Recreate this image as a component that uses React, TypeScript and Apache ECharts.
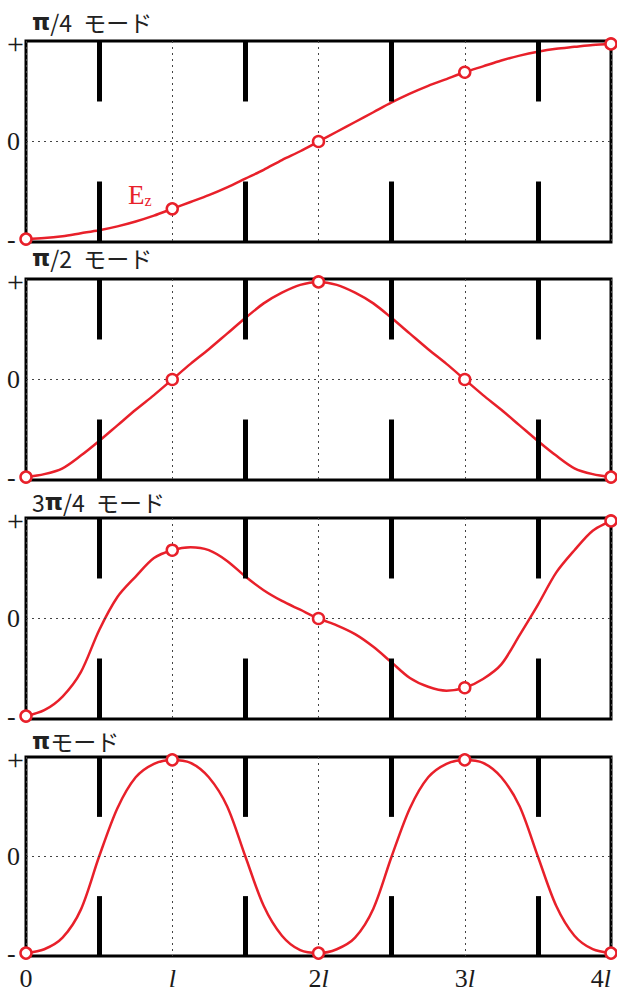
import { useEffect, useRef } from 'react';
import * as echarts from 'echarts';

// ---- data ----
const modeTitles = ['π/4', 'π/2', '3π/4', 'π'];
const modeSuffix = 'モード';
const xPositions = [
  0, 0.125, 0.25, 0.375, 0.5, 0.625, 0.75, 0.875,
  1, 1.125, 1.25, 1.375, 1.5, 1.625, 1.75, 1.875,
  2, 2.125, 2.25, 2.375, 2.5, 2.625, 2.75, 2.875,
  3, 3.125, 3.25, 3.375, 3.5, 3.625, 3.75, 3.875, 4,
];
const quarterMode = [
  -1, -0.99, -0.97, -0.94, -0.91, -0.87, -0.82, -0.76,
  -0.69, -0.62, -0.55, -0.47, -0.38, -0.29, -0.19, -0.1,
  0, 0.1, 0.2, 0.3, 0.4, 0.49, 0.57, 0.64,
  0.71, 0.77, 0.83, 0.88, 0.92, 0.95, 0.97, 0.99, 1,
];
const halfMode = [
  -1, -0.97, -0.91, -0.78, -0.63, -0.47, -0.31, -0.16,
  0, 0.16, 0.31, 0.47, 0.63, 0.78, 0.89, 0.97,
  1, 0.97, 0.89, 0.78, 0.63, 0.47, 0.31, 0.16,
  0, -0.16, -0.31, -0.47, -0.63, -0.78, -0.91, -0.97, -1,
];
const threeQuarterMode = [
  -1, -0.94, -0.8, -0.55, -0.12, 0.22, 0.43, 0.62,
  0.7, 0.73, 0.7, 0.59, 0.43, 0.29, 0.18, 0.09,
  0, -0.07, -0.16, -0.29, -0.45, -0.61, -0.7, -0.74,
  -0.71, -0.62, -0.47, -0.17, 0.14, 0.47, 0.7, 0.9, 1,
];
const piMode = [
  -1, -0.96, -0.84, -0.55, 0, 0.5, 0.82, 0.96,
  1, 0.97, 0.82, 0.52, 0, -0.51, -0.82, -0.97,
  -1, -0.96, -0.84, -0.54, 0, 0.5, 0.82, 0.96,
  1, 0.97, 0.82, 0.52, 0, -0.51, -0.82, -0.96, -1,
];
const modeValues = [quarterMode, halfMode, threeQuarterMode, piMode];
const cellPositions = [0, 1, 2, 3, 4];
const xTickLabels = ['0', 'l', '2l', '3l', '4l'];
const yTickValues = [-1, 0, 1];
const yTickLabels = ['-', '0', '+'];
const irisPositions = [0.5, 1.5, 2.5, 3.5];
const irisTip = 0.41;
const fieldLabel = 'Ez';

// ---- layout / style ----
const RED = '#e8202a';
const INK = '#1a1a1a';
const gridTops = [41, 279, 518, 757];
const titleCenters = [22, 258, 502, 741];
const GRID_H = 201;
const Y_EXT = 1.03;

function titleRich(t: string) {
  const parts = t.split(/(π)/).filter(Boolean).map((p) => (p === 'π' ? '{p|π}' : `{n|${p}}`)).join('');
  return t === 'π' ? `${parts}{t|${modeSuffix}}` : `${parts}{n| }{g|${modeSuffix}}`;
}

function xLabelRich(v: number) {
  const s = xTickLabels[Math.round(v)] ?? '';
  if (s === '0') return '{n|0}';
  const num = s.replace('l', '');
  return (num ? `{n|${num}}` : '') + '{i|l}';
}

function yLabelRich(v: number) {
  const s = yTickLabels[yTickValues.indexOf(Math.round(v))] ?? '';
  return s === '+' ? `{pl|${s}}` : `{v|${s}}`;
}

export default function App() {
  const ref = useRef<HTMLDivElement>(null);
  useEffect(() => {
    if (!ref.current) return;
    const chart = echarts.init(ref.current, undefined, { renderer: 'svg' });
    const grids = gridTops.map((top) => ({
      left: 26, width: 585, top, height: GRID_H,
      show: true, borderColor: '#000', borderWidth: 3, backgroundColor: 'transparent',
    }));
    const xAxes = gridTops.map((_, i) => ({
      type: 'value', gridIndex: i, min: 0, max: 4, interval: 1,
      axisLine: { show: false }, axisTick: { show: false },
      splitLine: { show: true, lineStyle: { color: '#444', type: [2, 4], width: 1 } },
      axisLabel: i === 3 ? {
        show: true, margin: 9, alignMaxLabel: 'right',
        formatter: (v: number) => xLabelRich(v),
        rich: {
          n: { fontFamily: 'Liberation Serif', fontSize: 26, color: INK },
          i: { fontFamily: 'Liberation Serif', fontStyle: 'italic', fontSize: 26, color: INK },
        },
      } : { show: false },
    }));
    const yAxes = gridTops.map((_, i) => ({
      type: 'value', gridIndex: i, min: -Y_EXT, max: Y_EXT,
      axisLine: { show: false }, axisTick: { show: false }, splitLine: { show: false },
      axisLabel: {
        show: true, customValues: yTickValues, align: 'left', margin: 19,
        formatter: (v: number) => yLabelRich(v),
        rich: {
          v: { fontFamily: 'Liberation Serif', fontSize: 26, color: INK },
          pl: { fontFamily: 'Liberation Serif', fontSize: 30, color: INK },
        },
      },
    }));
    const series: any[] = [];
    modeValues.forEach((vals, i) => {
      series.push({
        type: 'line', xAxisIndex: i, yAxisIndex: i, data: [], silent: true, z: 1,
        markLine: {
          silent: true, symbol: ['none', 'none'], label: { show: false }, animation: false,
          lineStyle: { color: '#444', type: [2, 4], width: 1 },
          data: [[{ coord: [0, 0] }, { coord: [4, 0] }]],
        },
      });
      series.push({
        type: 'line', xAxisIndex: i, yAxisIndex: i, data: [], silent: true, z: 2,
        markLine: {
          silent: true, symbol: ['none', 'none'], label: { show: false }, animation: false,
          lineStyle: { color: '#000', type: 'solid', width: 5, cap: 'butt' },
          data: irisPositions.flatMap((x) => [
            [{ coord: [x, Y_EXT] }, { coord: [x, irisTip] }],
            [{ coord: [x, -irisTip] }, { coord: [x, -Y_EXT] }],
          ]),
        },
      });
      series.push({
        type: 'line', xAxisIndex: i, yAxisIndex: i, z: 4, smooth: 0.3, showSymbol: false, clip: false,
        lineStyle: { color: RED, width: 2.5 },
        data: xPositions.map((x, j) => [x, vals[j]]),
      });
      series.push({
        type: 'scatter', xAxisIndex: i, yAxisIndex: i, z: 5, symbol: 'circle', symbolSize: 11, clip: false,
        itemStyle: { color: '#fff', borderColor: RED, borderWidth: 2.5, opacity: 1 },
        data: cellPositions.map((x) => {
          const v = vals[xPositions.indexOf(x)];
          if (i === 0 && x === 1) {
            return {
              value: [x, v],
              label: {
                show: true, position: 'left', distance: 14, offset: [0, -14],
                formatter: `{e|${fieldLabel[0]}}{s|${fieldLabel[1]}}`,
                rich: {
                  e: { fontFamily: 'Liberation Serif', fontSize: 27, color: RED },
                  s: { fontFamily: 'Liberation Serif', fontSize: 16, color: RED, verticalAlign: 'bottom', padding: [10, 0, 0, 0] },
                },
              },
            };
          }
          return [x, v];
        }),
      });
    });
    const graphic = modeTitles.map((t, i) => ({
      type: 'text', x: 32, y: titleCenters[i],
      style: {
        text: titleRich(t), verticalAlign: 'middle', align: 'left',
        rich: {
          p: { fontFamily: 'DejaVu Sans', fontWeight: 'bold', fontSize: 23, fill: '#222' },
          n: { fontFamily: 'Noto Sans CJK JP', fontSize: 23, fill: '#222' },
          t: { fontFamily: 'Noto Sans CJK JP', fontSize: 23, fill: '#222' },
          g: { fontFamily: 'Noto Sans CJK JP', fontSize: 23, fill: '#222', padding: [0, 0, 0, 6] },
        },
      },
    }));
    chart.setOption({
      animation: false,
      grid: grids,
      xAxis: xAxes,
      yAxis: yAxes,
      series,
      graphic,
    });
    return () => chart.dispose();
  }, []);
  return <div ref={ref} style={{ position: 'absolute', left: 0, top: 0, width: 617, height: 991 }} />;
}
